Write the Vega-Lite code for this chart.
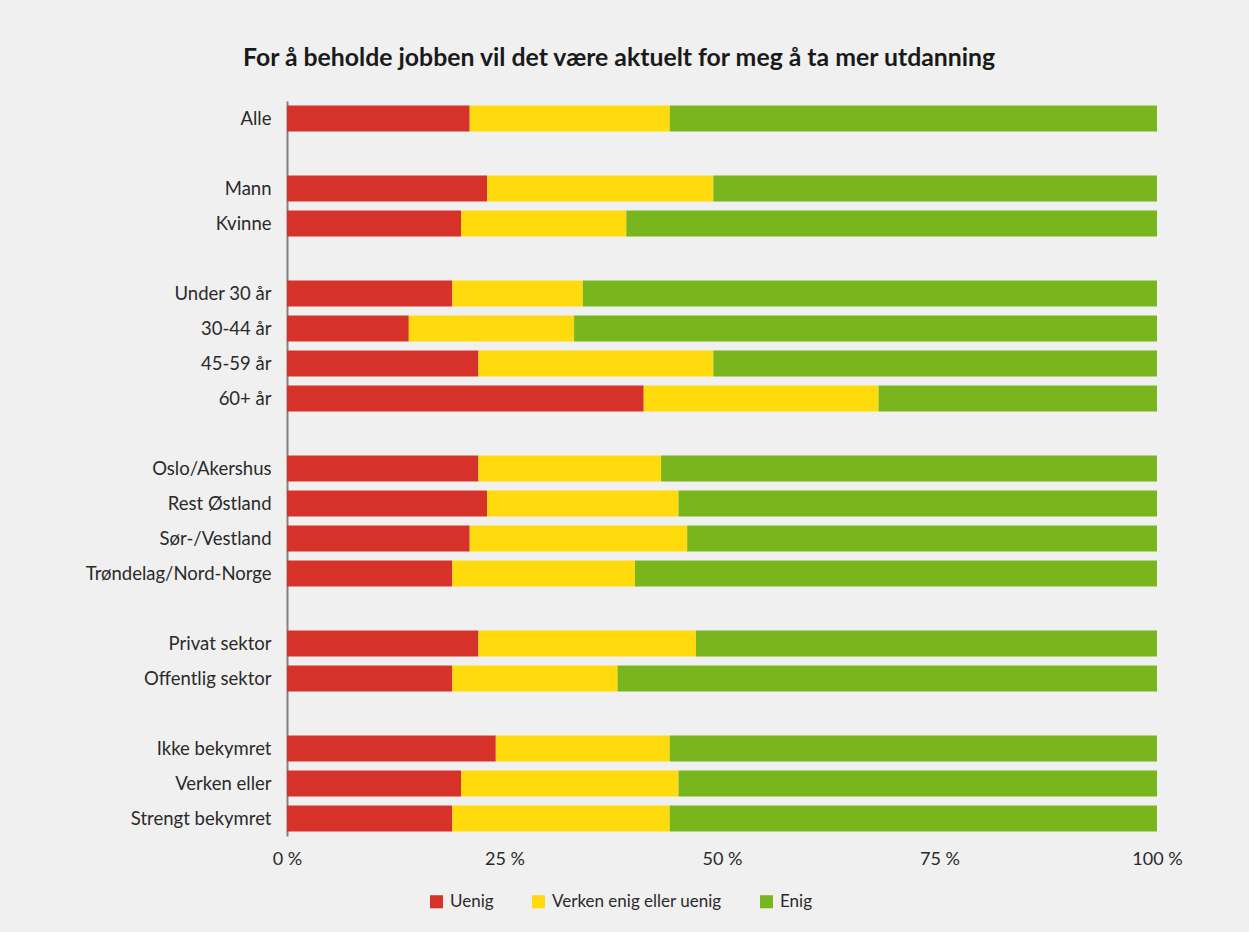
{
  "$schema": "https://vega.github.io/schema/vega-lite/v6.json",
  "width": 870,
  "height": 735,
  "autosize": {"type": "none"},
  "padding": {"left": 287, "top": 101, "right": 92, "bottom": 96},
  "background": "#f0f0f0",
  "title": {
    "text": "For å beholde jobben vil det være aktuelt for meg å ta mer utdanning",
    "anchor": "start",
    "frame": "group",
    "dx": -44,
    "offset": 30,
    "font": "Lato",
    "fontSize": 24.8,
    "fontWeight": "bold",
    "color": "#1a1a1a"
  },
  "data": {
    "values": [
      {"kategori": "Alle", "svar": "Uenig", "k": 1, "andel": 21},
      {"kategori": "Alle", "svar": "Verken enig eller uenig", "k": 2, "andel": 23},
      {"kategori": "Alle", "svar": "Enig", "k": 3, "andel": 56},
      {"kategori": "Mann", "svar": "Uenig", "k": 1, "andel": 23},
      {"kategori": "Mann", "svar": "Verken enig eller uenig", "k": 2, "andel": 26},
      {"kategori": "Mann", "svar": "Enig", "k": 3, "andel": 51},
      {"kategori": "Kvinne", "svar": "Uenig", "k": 1, "andel": 20},
      {"kategori": "Kvinne", "svar": "Verken enig eller uenig", "k": 2, "andel": 19},
      {"kategori": "Kvinne", "svar": "Enig", "k": 3, "andel": 61},
      {"kategori": "Under 30 år", "svar": "Uenig", "k": 1, "andel": 19},
      {"kategori": "Under 30 år", "svar": "Verken enig eller uenig", "k": 2, "andel": 15},
      {"kategori": "Under 30 år", "svar": "Enig", "k": 3, "andel": 66},
      {"kategori": "30-44 år", "svar": "Uenig", "k": 1, "andel": 14},
      {"kategori": "30-44 år", "svar": "Verken enig eller uenig", "k": 2, "andel": 19},
      {"kategori": "30-44 år", "svar": "Enig", "k": 3, "andel": 67},
      {"kategori": "45-59 år", "svar": "Uenig", "k": 1, "andel": 22},
      {"kategori": "45-59 år", "svar": "Verken enig eller uenig", "k": 2, "andel": 27},
      {"kategori": "45-59 år", "svar": "Enig", "k": 3, "andel": 51},
      {"kategori": "60+ år", "svar": "Uenig", "k": 1, "andel": 41},
      {"kategori": "60+ år", "svar": "Verken enig eller uenig", "k": 2, "andel": 27},
      {"kategori": "60+ år", "svar": "Enig", "k": 3, "andel": 32},
      {"kategori": "Oslo/Akershus", "svar": "Uenig", "k": 1, "andel": 22},
      {"kategori": "Oslo/Akershus", "svar": "Verken enig eller uenig", "k": 2, "andel": 21},
      {"kategori": "Oslo/Akershus", "svar": "Enig", "k": 3, "andel": 57},
      {"kategori": "Rest Østland", "svar": "Uenig", "k": 1, "andel": 23},
      {"kategori": "Rest Østland", "svar": "Verken enig eller uenig", "k": 2, "andel": 22},
      {"kategori": "Rest Østland", "svar": "Enig", "k": 3, "andel": 55},
      {"kategori": "Sør-/Vestland", "svar": "Uenig", "k": 1, "andel": 21},
      {"kategori": "Sør-/Vestland", "svar": "Verken enig eller uenig", "k": 2, "andel": 25},
      {"kategori": "Sør-/Vestland", "svar": "Enig", "k": 3, "andel": 54},
      {"kategori": "Trøndelag/Nord-Norge", "svar": "Uenig", "k": 1, "andel": 19},
      {"kategori": "Trøndelag/Nord-Norge", "svar": "Verken enig eller uenig", "k": 2, "andel": 21},
      {"kategori": "Trøndelag/Nord-Norge", "svar": "Enig", "k": 3, "andel": 60},
      {"kategori": "Privat sektor", "svar": "Uenig", "k": 1, "andel": 22},
      {"kategori": "Privat sektor", "svar": "Verken enig eller uenig", "k": 2, "andel": 25},
      {"kategori": "Privat sektor", "svar": "Enig", "k": 3, "andel": 53},
      {"kategori": "Offentlig sektor", "svar": "Uenig", "k": 1, "andel": 19},
      {"kategori": "Offentlig sektor", "svar": "Verken enig eller uenig", "k": 2, "andel": 19},
      {"kategori": "Offentlig sektor", "svar": "Enig", "k": 3, "andel": 62},
      {"kategori": "Ikke bekymret", "svar": "Uenig", "k": 1, "andel": 24},
      {"kategori": "Ikke bekymret", "svar": "Verken enig eller uenig", "k": 2, "andel": 20},
      {"kategori": "Ikke bekymret", "svar": "Enig", "k": 3, "andel": 56},
      {"kategori": "Verken eller", "svar": "Uenig", "k": 1, "andel": 20},
      {"kategori": "Verken eller", "svar": "Verken enig eller uenig", "k": 2, "andel": 25},
      {"kategori": "Verken eller", "svar": "Enig", "k": 3, "andel": 55},
      {"kategori": "Strengt bekymret", "svar": "Uenig", "k": 1, "andel": 19},
      {"kategori": "Strengt bekymret", "svar": "Verken enig eller uenig", "k": 2, "andel": 25},
      {"kategori": "Strengt bekymret", "svar": "Enig", "k": 3, "andel": 56}
    ]
  },
  "mark": {"type": "bar"},
  "encoding": {
    "y": {
      "field": "kategori",
      "type": "nominal",
      "scale": {
        "domain": ["Alle", " ", "Mann", "Kvinne", "  ", "Under 30 år", "30-44 år", "45-59 år", "60+ år", "   ", "Oslo/Akershus", "Rest Østland", "Sør-/Vestland", "Trøndelag/Nord-Norge", "    ", "Privat sektor", "Offentlig sektor", "     ", "Ikke bekymret", "Verken eller", "Strengt bekymret"],
        "paddingInner": 0.26,
        "paddingOuter": 0.13
      },
      "axis": {
        "title": null,
        "ticks": false,
        "domain": true,
        "domainColor": "#808080",
        "domainWidth": 2,
        "labelFont": "Lato",
        "labelFontSize": 18.5,
        "labelColor": "#2a2a2a",
        "labelPadding": 16,
        "labelLimit": 300
      }
    },
    "x": {
      "field": "andel",
      "type": "quantitative",
      "stack": "zero",
      "scale": {"domain": [0, 100], "nice": false},
      "axis": {
        "title": null,
        "values": [0, 25, 50, 75, 100],
        "labelExpr": "datum.value + ' %'",
        "grid": false,
        "ticks": false,
        "domain": false,
        "labelFont": "Lato",
        "labelFontSize": 18,
        "labelColor": "#2a2a2a",
        "labelPadding": 14,
        "labelFlush": false
      }
    },
    "color": {
      "field": "svar",
      "type": "nominal",
      "scale": {
        "domain": ["Uenig", "Verken enig eller uenig", "Enig"],
        "range": ["#d7322a", "#ffdb0d", "#79b51c"]
      },
      "legend": {
        "title": null,
        "orient": "none",
        "direction": "horizontal",
        "legendX": 141,
        "legendY": 792,
        "symbolType": "square",
        "symbolSize": 170,
        "symbolOpacity": 1,
        "symbolStrokeWidth": 0,
        "labelFont": "Lato",
        "labelFontSize": 17,
        "labelColor": "#2a2a2a",
        "labelLimit": 400,
        "columnPadding": 36,
        "labelOffset": 5
      }
    },
    "order": {"field": "k", "type": "quantitative"}
  },
  "config": {
    "view": {"stroke": null}
  }
}
